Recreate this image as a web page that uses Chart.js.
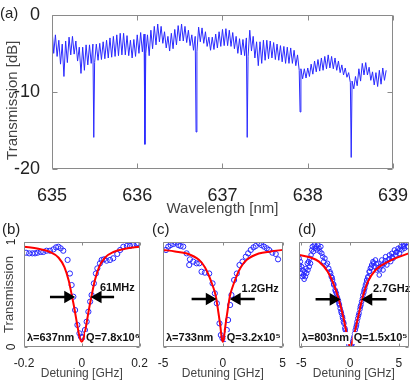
<!DOCTYPE html>
<html>
<head>
<meta charset="utf-8">
<script src="https://cdn.jsdelivr.net/npm/chart.js@4.4.0/dist/chart.umd.min.js"></script>
<style>
  body { margin: 0; background: #fff; }
  #fig { position: relative; width: 416px; height: 381px; overflow: hidden; font-family: 'Liberation Sans', Arial, sans-serif; }
  #fig canvas { position: absolute; }
  .tag { position: absolute; font-size: 15px; line-height: 15px; color: #222; }
</style>
</head>
<body>
<div id="fig">
  <canvas id="chartA" width="416" height="222" style="left:0;top:0"></canvas>
  <canvas id="chartB" width="150" height="159" style="left:0;top:222px"></canvas>
  <canvas id="chartC" width="140" height="159" style="left:150px;top:222px"></canvas>
  <canvas id="chartD" width="126" height="159" style="left:290px;top:222px"></canvas>
  <div class="tag" style="left:0;top:5px">(a)</div>
  <div class="tag" style="left:2px;top:221px">(b)</div>
  <div class="tag" style="left:152px;top:221px">(c)</div>
  <div class="tag" style="left:298px;top:221px">(d)</div>
</div>
<script>
// (a) transmission spectrum, fringe tops / bottoms every 0.04 nm
const wlStart = 635;
const wlStep = 0.04;
const wlTicks = [635, 636, 637, 638, 639];
const dbTicks = [-20, -10, 0];
const fringeHigh = [
  -1.8, -2.6, -3.3, -3.8, -3.4, -2.9, -2.8, -3.4, -4.2, -4.2,
  -3.9, -3.9, -3.8, -3.8, -3.7, -3.5, -3.3, -3.0, -2.8, -2.6,
  -2.4, -2.4, -2.7, -3.3, -3.2, -2.6, -2.3, -2.5, -2.6, -2.0,
  -1.5, -1.2, -1.5, -2.2, -2.8, -2.4, -1.9, -1.4, -1.2, -1.5,
  -2.0, -2.6, -2.8, -1.6, -1.7, -2.2, -2.9, -2.9, -2.5, -2.2,
  -1.9, -1.8, -2.0, -2.3, -2.8, -3.1, -3.2, -3.0, -2.0, -2.8,
  -3.5, -3.5, -3.3, -3.3, -3.4, -3.6, -3.8, -4.0, -4.1, -4.2,
  -4.3, -4.6, -5.2, -7.0, -7.0, -6.9, -6.4, -6.0, -5.8, -5.6,
  -5.4, -5.2, -5.4, -5.6, -6.0, -6.5, -6.9, -7.5, -8.6, -8.0,
  -7.0, -6.3, -6.2, -6.8, -7.4, -7.5, -7.2, -6.9, -7.2
];
const fringeLow = [
  -5.0, -5.4, -6.4, -8.0, -6.2, -5.2, -5.1, -6.0, -7.6, -7.2,
  -6.5, -6.3, -6.2, -5.9, -5.8, -5.7, -5.6, -5.5, -5.4, -5.3,
  -5.2, -5.2, -5.3, -5.6, -5.4, -5.0, -4.8, -5.0, -5.3, -4.4,
  -3.9, -3.5, -3.7, -4.3, -4.7, -4.4, -3.9, -3.4, -3.4, -3.6,
  -4.0, -4.6, -4.8, -3.5, -3.7, -4.1, -4.6, -4.5, -4.3, -4.1,
  -4.0, -4.0, -4.1, -4.4, -5.0, -5.2, -5.3, -5.4, -4.7, -5.6,
  -6.6, -6.3, -5.9, -5.7, -5.6, -5.8, -5.9, -6.1, -6.3, -6.3,
  -6.3, -6.6, -7.2, -8.3, -8.2, -8.0, -7.7, -7.4, -7.3, -7.2,
  -7.0, -6.9, -7.0, -7.2, -7.5, -7.8, -8.1, -8.8, -9.6, -9.2,
  -8.6, -7.8, -7.8, -8.5, -9.1, -9.3, -9.0, -8.5
];
const dipWavelength = [635.49, 636.09, 636.69, 637.29, 637.91, 638.51];
const dipDepth = [-15.9, -16.8, -15.2, -15.9, -12.6, -18.5];

// (b) 637 nm resonance
const bTicks = [-0.2, 0, 0.2];
const bDetuning = [-0.193, -0.182, -0.171, -0.162, -0.153, -0.142, -0.133, -0.122, -0.110, -0.098,
  -0.089, -0.081, -0.073, -0.064, -0.049, -0.041, -0.035, -0.029, -0.023, -0.015,
  -0.008, -0.003, 0.003, 0.011, 0.017, 0.023, 0.029, 0.034, 0.042, 0.049,
  0.054, 0.063, 0.069, 0.077, 0.086, 0.098, 0.109, 0.123, 0.133, 0.144,
  0.156, 0.167, 0.179, 0.190, 0.196];
const bSignal = [0.898, 0.892, 0.892, 0.892, 0.898, 0.905, 0.905, 0.917, 0.917, 0.930,
  0.949, 0.955, 0.940, 0.917, 0.829, 0.700, 0.590, 0.479, 0.352, 0.210,
  0.130, 0.098, 0.092, 0.162, 0.241, 0.336, 0.432, 0.495, 0.606, 0.700,
  0.749, 0.797, 0.829, 0.835, 0.822, 0.829, 0.845, 0.886, 0.924, 0.955,
  0.962, 0.962, 0.971, 0.981, 0.987];
const bFitX = [-0.2, -0.15, -0.11, -0.08, -0.06, -0.045, -0.035, -0.025, -0.015, -0.007, 0,
  0.007, 0.015, 0.025, 0.035, 0.045, 0.06, 0.08, 0.11, 0.15, 0.2];
const bFitY = [0.955, 0.935, 0.905, 0.85, 0.76, 0.63, 0.50, 0.36, 0.20, 0.09, 0.05,
  0.09, 0.20, 0.36, 0.50, 0.63, 0.76, 0.85, 0.905, 0.935, 0.955];

// (c) 733 nm resonance
const cTicks = [-5, 0, 5];
const cDetuning = [-4.75, -4.56, -4.36, -4.14, -3.92, -3.72, -3.53, -3.31, -3.03, -2.81,
  -2.75, -2.47, -2.19, -1.97, -1.78, -1.50, -1.14, -0.86, -0.67, -0.50,
  -0.28, -0.17, -0.03, 0.17, 0.33, 0.44, 0.61, 0.72, 0.94, 1.17,
  1.39, 1.64, 1.92, 2.11, 2.33, 2.56, 2.75, 3.03, 3.22, 3.44,
  3.67, 3.86, 4.14, 4.42, 4.61];
const cSignal = [0.924, 0.956, 0.971, 0.981, 0.994, 0.971, 0.962, 0.956, 0.892, 0.781,
  0.835, 0.813, 0.797, 0.797, 0.717, 0.708, 0.700, 0.606, 0.511, 0.416,
  0.225, 0.114, 0.083, 0.076, 0.162, 0.257, 0.400, 0.495, 0.638, 0.700,
  0.781, 0.813, 0.860, 0.892, 0.924, 0.949, 0.962, 0.987, 0.971, 0.956,
  0.940, 0.924, 0.898, 0.886, 0.835];
const cFitX = [-5, -4, -3, -2, -1.5, -1.2, -0.9, -0.6, -0.4, -0.2, -0.1, 0,
  0.1, 0.2, 0.4, 0.6, 0.9, 1.2, 1.5, 2, 3, 4, 5];
const cFitY = [0.925, 0.91, 0.89, 0.83, 0.76, 0.69, 0.60, 0.49, 0.35, 0.19, 0.09, 0.05,
  0.09, 0.19, 0.35, 0.49, 0.60, 0.69, 0.76, 0.83, 0.89, 0.91, 0.925];

// (d) 803 nm resonance
const dTicks = [-5, 0, 5];
const dDetuning = [-5.24, -5.24, -5.17, -5.11, -5.01, -4.98, -4.92, -4.85, -4.79, -4.72,
  -4.66, -4.59, -4.53, -4.46, -4.40, -4.33, -4.27, -4.20, -4.14, -4.07,
  -4.01, -3.94, -3.88, -3.78, -3.69, -3.59, -3.49, -3.40, -3.30, -3.20,
  -3.10, -3.01, -2.91, -2.81, -2.72, -2.59, -2.46, -2.33, -2.20, -2.07,
  -1.94, -1.81, -1.68, -1.55, -1.42, -1.29, -1.16, -1.03, -0.90, -0.77,
  -0.64, -0.51, -0.39, -0.26, -0.13, 0.00, 0.13, 0.26, 0.39, 0.52,
  0.65, 0.78, 0.91, 1.04, 1.17, 1.30, 1.43, 1.56, 1.69, 1.82,
  1.94, 2.07, 2.20, 2.33, 2.46, 2.59, 2.72, 2.85, 2.98, 3.11,
  3.24, 3.37, 3.50, 3.63, 3.76, 3.89, 4.02, 4.15, 4.27, 4.40,
  4.53, 4.66, 4.79, 4.92, 5.05, 5.18, 5.31, 5.44, 5.57, 5.70,
  5.83, 5.96,
  -2.00, -1.85, -1.70, -1.50, -1.35, -1.20, -1.10, -0.95, -0.80, -0.70,
  -0.55, -0.45, -0.30, 0.20, 0.35, 0.45, 0.60, 0.70, 0.85, 1.00,
  1.10, 1.25, 1.40, 1.50, 1.65, 1.80, 2.00, 2.15, 2.40, 2.70,
  3.00, 3.30, 3.60, 4.00, 4.30, 4.70, 5.10, 5.50];
const dSignal = [0.844, 0.781, 0.749, 0.813, 0.702, 0.765, 0.670, 0.733, 0.686, 0.645,
  0.717, 0.670, 0.749, 0.702, 0.797, 0.733, 0.813, 0.765, 0.844, 0.797,
  0.876, 0.924, 0.956, 0.908, 0.971, 0.940, 0.956, 0.924, 0.971, 0.940,
  0.908, 0.956, 0.892, 0.860, 0.813, 0.844, 0.781, 0.797, 0.749, 0.717,
  0.670, 0.638, 0.590, 0.543, 0.511, 0.463, 0.416, 0.368, 0.321, 0.273,
  0.225, 0.162, 0.114, 0.067, 0.019, 0.003, 0.010, 0.051, 0.098, 0.162,
  0.210, 0.273, 0.321, 0.384, 0.432, 0.495, 0.543, 0.590, 0.638, 0.670,
  0.717, 0.749, 0.781, 0.813, 0.765, 0.829, 0.733, 0.797, 0.686, 0.765,
  0.829, 0.733, 0.797, 0.860, 0.781, 0.829, 0.876, 0.813, 0.892, 0.844,
  0.924, 0.876, 0.908, 0.940, 0.892, 0.956, 0.924, 0.971, 0.940, 0.987,
  0.956, 0.994,
  0.70, 0.66, 0.60, 0.53, 0.48, 0.44, 0.40, 0.34, 0.29, 0.24,
  0.18, 0.13, 0.08, 0.03, 0.08, 0.13, 0.19, 0.24, 0.30, 0.36,
  0.40, 0.46, 0.52, 0.56, 0.61, 0.66, 0.72, 0.76, 0.80, 0.79,
  0.74, 0.78, 0.82, 0.84, 0.86, 0.90, 0.93, 0.96];
const dFitX = [-5.25, -4, -3.2, -2.3, -1.6, -1.1, -0.65, -0.3, 0, 0.35, 0.8, 1.3, 1.8, 2.6, 3.9, 6];
const dFitY = [0.876, 0.85, 0.813, 0.717, 0.575, 0.43, 0.26, 0.10, 0.0, 0.10, 0.28, 0.48, 0.62, 0.733, 0.813, 0.892];

const levelTicks = [0, 1];

const family = "'Liberation Sans', Arial, sans-serif";
Chart.defaults.font.family = family;
Chart.defaults.color = '#222';
Chart.defaults.animation = false;
Chart.defaults.responsive = false;
Chart.defaults.plugins.legend.display = false;
Chart.defaults.plugins.tooltip.enabled = false;

// matlab style frame with inward ticks on all four sides
const boxPlugin = {
  id: 'box',
  afterDatasetsDraw(chart, args, opts) {
    const { ctx, chartArea: a, scales } = chart;
    const L = Math.round(a.left) + 0.5, R = Math.round(a.right) - 0.5;
    const T = Math.round(a.top) + 0.5, B = Math.round(a.bottom) - 0.5;
    const len = opts.tick || 4;
    ctx.save();
    ctx.strokeStyle = '#8a8a8a';
    ctx.lineWidth = 1;
    ctx.beginPath();
    ctx.rect(L, T, R - L, B - T);
    scales.x.ticks.forEach(t => {
      const p = Math.round(scales.x.getPixelForValue(t.value)) + 0.5;
      ctx.moveTo(p, B); ctx.lineTo(p, B - len);
      ctx.moveTo(p, T); ctx.lineTo(p, T + len);
    });
    scales.y.ticks.forEach(t => {
      const p = Math.round(scales.y.getPixelForValue(t.value)) + 0.5;
      ctx.moveTo(L, p); ctx.lineTo(L + len, p);
      ctx.moveTo(R, p); ctx.lineTo(R - len, p);
    });
    ctx.stroke();
    ctx.restore();
  }
};

// bold labels inside the small panels
const notesPlugin = {
  id: 'notes',
  afterDatasetsDraw(chart, args, opts) {
    const { ctx, scales: { x, y } } = chart;
    ctx.save();
    ctx.font = 'bold 11px ' + family;
    ctx.textBaseline = 'middle';
    (opts.items || []).forEach(n => {
      const px = x.getPixelForValue(n.x), py = y.getPixelForValue(n.y);
      if (n.bg) {
        const w = ctx.measureText(n.text).width;
        ctx.fillStyle = '#fff';
        ctx.fillRect(px - 1, py - 6, w + 2, 12);
      }
      ctx.fillStyle = '#111';
      ctx.fillText(n.text, px, py);
    });
    ctx.restore();
  }
};

const setTicks = list => s => { s.ticks = list.map(v => ({ value: v })); };
const pairs = (xs, ys) => xs.map((v, i) => ({ x: v, y: ys[i] }));

// (a)
const spectrum = [];
fringeHigh.forEach((v, i) => spectrum.push({ x: wlStart + i * wlStep, y: v }));
fringeLow.forEach((v, i) => spectrum.push({ x: wlStart + (i + 0.5) * wlStep, y: v }));
dipWavelength.forEach((w, i) => spectrum.push({ x: w, y: dipDepth[i] }));
spectrum.sort((p, q) => p.x - q.x);

new Chart(document.getElementById('chartA'), {
  type: 'line',
  data: { datasets: [{ data: spectrum, borderColor: '#2a2aff', borderWidth: 1, pointRadius: 0, tension: 0 }] },
  options: {
    layout: { padding: { top: 5, right: 9, left: 0, bottom: 0 } },
    scales: {
      x: {
        type: 'linear', min: 635, max: 639,
        afterBuildTicks: setTicks(wlTicks),
        afterFit: s => { s.height = 53; },
        grid: { display: false }, border: { display: false },
        ticks: { padding: 8, font: { size: 18 }, callback: v => String(v) },
        title: { display: true, text: 'Wavelength [nm]', color: '#444', font: { size: 15 }, padding: { top: 0, bottom: 4 } }
      },
      y: {
        min: -20, max: 0,
        afterBuildTicks: setTicks(dbTicks),
        afterFit: s => { s.width = 52; },
        grid: { display: false }, border: { display: false },
        ticks: { padding: 4, font: { size: 18 }, callback: v => String(v) },
        // trailing spaces push the label a little below the axis middle, as in the source figure
        title: { display: true, text: 'Transmission [dB]    ', color: '#444', font: { size: 15 }, padding: { top: 4, bottom: 0 } }
      }
    },
    plugins: { box: { tick: 5 } }
  },
  plugins: [boxPlugin]
});

// (b)-(d)
function detuningPanel(id, p) {
  const arrow = (from, to, rot) => ({
    type: 'line', data: [{ x: from, y: p.level }, { x: to, y: p.level }],
    borderColor: '#000', borderWidth: 2.5, pointRadius: [0, 4.8], pointStyle: 'triangle',
    pointRotation: rot, pointBackgroundColor: '#000', pointBorderColor: '#000', order: 0
  });
  return new Chart(document.getElementById(id), {
    type: 'scatter',
    data: {
      datasets: [
        arrow(p.arrowFrom[0], p.arrowTo[0], 90),
        arrow(p.arrowFrom[1], p.arrowTo[1], -90),
        { type: 'line', data: p.fit, borderColor: '#ff0000', borderWidth: 2, pointRadius: 0,
          cubicInterpolationMode: 'monotone', order: 1 },
        { data: p.points, borderColor: '#2828ff', backgroundColor: 'rgba(0,0,0,0)',
          pointRadius: p.radius, borderWidth: 1, order: 2 }
      ]
    },
    options: {
      layout: { padding: { top: 20, right: p.right, left: 0, bottom: 0 } },
      scales: {
        x: {
          type: 'linear', min: p.min, max: p.max,
          afterBuildTicks: setTicks(p.ticks),
          afterFit: s => { s.height = 34; },
          grid: { display: false }, border: { display: false },
          ticks: { padding: 1, font: { size: 12 }, callback: v => String(v) },
          title: { display: true, text: 'Detuning [GHz]', color: '#444', font: { size: 12 }, padding: { top: 0, bottom: 0 } }
        },
        y: {
          min: 0, max: 1,
          afterBuildTicks: setTicks(levelTicks),
          afterFit: s => { s.width = p.left; },
          grid: { display: false }, border: { display: false },
          ticks: { display: p.yLabels, padding: 1, minRotation: 90, maxRotation: 90, crossAlign: 'center',
                   font: { size: 12 }, callback: v => String(v) },
          title: { display: p.yLabels, text: 'Transmission', color: '#444', font: { size: 13 }, padding: { top: 2, bottom: 0 } }
        }
      },
      plugins: {
        box: { tick: 3 },
        notes: { items: [
          { x: p.lambdaAt, y: 0.085, text: p.lambda, bg: true },
          { x: p.qAt, y: 0.085, text: p.q, bg: true },
          { x: p.widthAt[0], y: p.widthAt[1], text: p.width }
        ] }
      }
    },
    plugins: [notesPlugin, boxPlugin]
  });
}

detuningPanel('chartB', {
  min: -0.2, max: 0.2, ticks: bTicks, left: 24, right: 10.5, yLabels: true, radius: 2.6,
  points: pairs(bDetuning, bSignal), fit: pairs(bFitX, bFitY),
  level: 0.476, arrowFrom: [-0.11, 0.112], arrowTo: [-0.048, 0.056],
  lambda: 'λ=637nm', lambdaAt: -0.19, q: 'Q=7.8x10⁶', qAt: 0.015,
  width: '61MHz', widthAt: [0.063, 0.565]
});

detuningPanel('chartC', {
  min: -5, max: 5, ticks: cTicks, left: 13, right: 7, yLabels: false, radius: 2.6,
  points: pairs(cDetuning, cSignal), fit: pairs(cFitX, cFitY),
  level: 0.457, arrowFrom: [-2.61, 2.67], arrowTo: [-1.12, 1.18],
  lambda: 'λ=733nm', lambdaAt: -4.75, q: 'Q=3.2x10⁵', qAt: 0.33,
  width: '1.2GHz', widthAt: [1.56, 0.55]
});

detuningPanel('chartD', {
  min: -5.25, max: 6, ticks: dTicks, left: 9, right: 1, yLabels: false, radius: 2.3,
  points: pairs(dDetuning, dSignal), fit: pairs(dFitX, dFitY),
  level: 0.454, arrowFrom: [-3.55, 3.73], arrowTo: [-1.73, 1.89],
  lambda: 'λ=803nm', lambdaAt: -4.98, q: 'Q=1.5x10⁵', qAt: 0.36,
  width: '2.7GHz', widthAt: [2.33, 0.55]
});
</script>
</body>
</html>
